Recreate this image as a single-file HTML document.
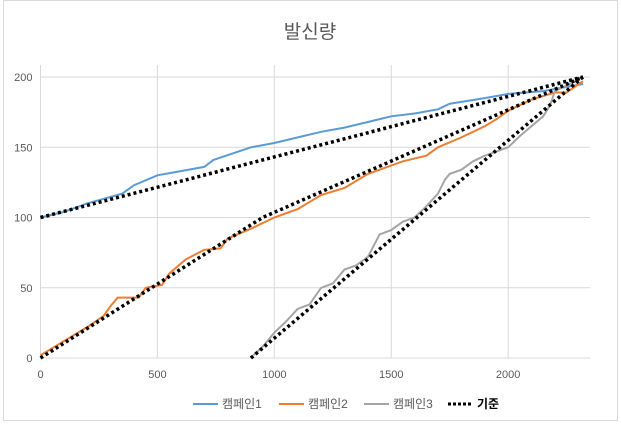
<!DOCTYPE html>
<html><head><meta charset="utf-8"><style>
body{margin:0;background:#fff;}
svg{display:block;font-family:"Liberation Sans","Noto Sans CJK KR",sans-serif;}
</style></head><body>
<svg id="c" width="621" height="424">
<rect x="3.5" y="0.5" width="614" height="420" fill="#fff" stroke="#d9d9d9"/>
<text x="310" y="38" text-anchor="middle" font-size="19" fill="#595959">발신량</text>
<g id="grid"></g><g id="series"></g>
<g font-size="12" fill="#595959">
<g><line x1="193" y1="404" x2="218" y2="404" stroke="#5b9bd5" stroke-width="2"/><text x="222" y="408">캠페인1</text></g>
<g><line x1="279" y1="404" x2="304" y2="404" stroke="#ed7d31" stroke-width="2"/><text x="308" y="408">캠페인2</text></g>
<g><line x1="364" y1="404" x2="389" y2="404" stroke="#a5a5a5" stroke-width="2"/><text x="393" y="408">캠페인3</text></g>
<g><line x1="448" y1="404" x2="473" y2="404" stroke="#000" stroke-width="3" stroke-dasharray="3 2"/><text x="477" y="408" font-weight="bold" fill="#000">기준</text></g>
</g>
</svg>
<script>
const xTicks=[0,500,1000,1500,2000];
const yTicks=[0,50,100,150,200];
const c1X=[0,100,200,350,400,500,600,700,740,900,1000,1100,1200,1300,1400,1500,1600,1700,1750,1900,2000,2150,2320];
const c1Y=[100,104,110,117,123,130,133,136,141,150,153,157,161,164,168,172,174,177,181,185,188,190,195];
const c2X=[0,50,100,200,270,300,330,420,450,520,550,620,700,770,800,900,1000,1100,1200,1300,1400,1450,1550,1650,1700,1800,1900,1950,2000,2100,2200,2250,2320];
const c2Y=[2,7,12,22,30,37,43,43,50,52,60,70,77,78,85,92,100,106,116,121,131,134,140,144,150,157,165,170,176,184,189,189,197];
const c3X=[910,950,1000,1050,1100,1150,1200,1250,1300,1350,1400,1450,1500,1550,1600,1650,1700,1730,1750,1800,1850,1900,2000,2050,2100,2150,2180,2200,2300];
const c3Y=[2,8,18,26,35,38,50,53,63,66,72,88,91,97,100,108,117,127,131,134,140,144,150,158,165,172,180,190,198];
const b1X=[0,2320],b1Y=[100,200];
const b2X=[0,950,2320],b2Y=[0,100,200];
const b3X=[900,2320],b3Y=[0,200];
const NS="http://www.w3.org/2000/svg";
const X0=40.5,XMAX=2350,XR=590,Y0=358,Y1=77;
const sx=v=>X0+v*(XR-X0)/XMAX;
const sy=v=>Y0-v*(Y0-Y1)/200;
const grid=document.getElementById('grid'),ser=document.getElementById('series');
function mk(t,a,p){const e=document.createElementNS(NS,t);for(const k in a)e.setAttribute(k,a[k]);p.appendChild(e);return e;}
yTicks.forEach(t=>{
 const l=mk('line',{x1:X0,x2:XR,y1:sy(t),y2:sy(t),stroke:'#d9d9d9'},grid);
 
 
 const tx=mk('text',{x:X0-8,y:sy(t)+4,'text-anchor':'end','font-size':'11',fill:'#595959'},grid);tx.textContent=t;
 
 
});
xTicks.forEach(t=>{
 const l=mk('line',{x1:sx(t),x2:sx(t),y1:Y1-12,y2:Y0,stroke:'#d9d9d9'},grid);
 
 
 const tx=mk('text',{x:sx(t),y:Y0+20,'text-anchor':'middle','font-size':'11',fill:'#595959'},grid);tx.textContent=t;
 
 
});
function line(xs,ys,col,w,dash,name){
 const pts=xs.map((x,i)=>sx(x).toFixed(1)+','+sy(ys[i]).toFixed(1)).join(' ');
 const a={points:pts,fill:'none',stroke:col,'stroke-width':w};if(dash)a['stroke-dasharray']=dash;
 const p=mk('polyline',a,ser);
 
 
}
line(c1X,c1Y,'#5b9bd5',2,null,'series-campaign1');
line(c2X,c2Y,'#ed7d31',2,null,'series-campaign2');
line(c3X,c3Y,'#a5a5a5',2,null,'series-campaign3');
line(b1X,b1Y,'#000',3.5,'3 3','baseline-1');
line(b2X,b2Y,'#000',3.5,'3 3','baseline-2');
line(b3X,b3Y,'#000',3.5,'3 3','baseline-3');
</script>
</body></html>
